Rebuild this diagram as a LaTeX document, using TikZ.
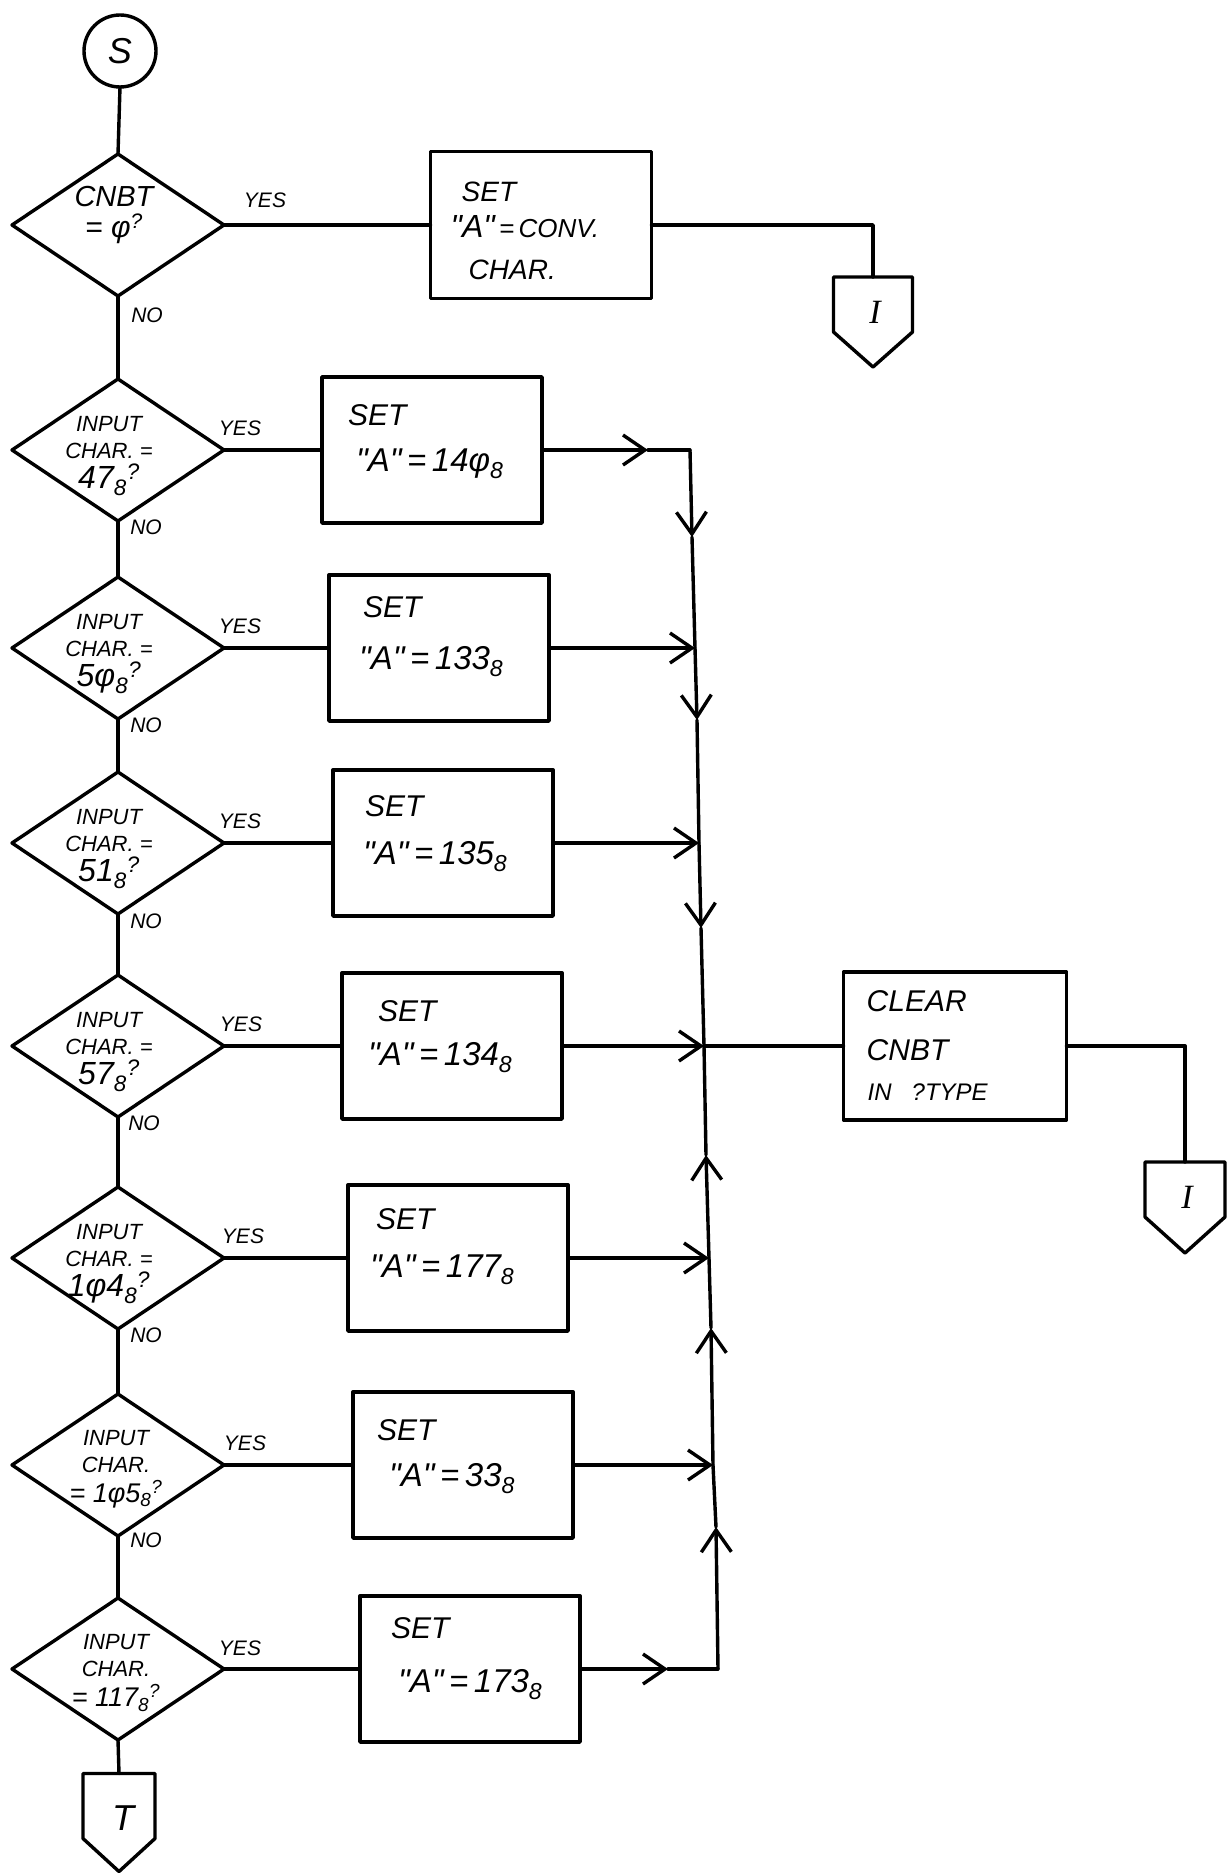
\documentclass[tikz,border=0pt]{standalone}
\usepackage{fontspec}
\setmainfont{Liberation Sans}[Ligatures=TeXOff]
\newfontfamily\serifhand{Liberation Serif}
\usetikzlibrary{shapes.geometric,arrows.meta,calc}
\newcommand{\offpageshape}[2]{\draw[ln] (#1.north west) -- (#1.north east) -- (#1.south east) -- ($(#1.south)+(0,#2)$) -- (#1.south west) -- cycle;}
\begin{document}
\begin{tikzpicture}[x=1pt,y=-1pt,
  ln/.style={line width=3.4pt,line cap=round,line join=round},
  dia/.style={ln,draw,diamond,minimum width=212pt,minimum height=142pt,inner sep=0pt,outer sep=0pt},
  procbox/.style={ln,draw,rectangle,minimum width=220pt,minimum height=146pt,inner sep=0pt,outer sep=0pt},
  offpg/.style={inner sep=0pt,outer sep=0pt,minimum width=79pt,minimum height=55pt},
  hand/.style={inner sep=0pt,font=\fontsize{#1}{#1}\selectfont\itshape},
  dtext/.style={inner sep=0pt,align=center,font=\fontsize{22}{27}\selectfont\itshape},
  lbl/.style={inner sep=0pt,font=\fontsize{21}{21}\selectfont\itshape},
  arr/.style={-{Straight Barb[length=22pt,width=30pt]}},
]
\useasboundingbox (0,0) rectangle (1227,1874);

% start connector
\node[ln,draw,circle,minimum size=72pt,inner sep=0pt,outer sep=0pt,font=\fontsize{36}{36}\selectfont\itshape] (S) at (120,51) {S};

% decisions
\node[dia] (d1) at (118,225) {};
\node[dia] (d2) at (118,450) {};
\node[dia] (d3) at (118,648) {};
\node[dia] (d4) at (118,843) {};
\node[dia] (d5) at (118,1046) {};
\node[dia] (d6) at (118,1258) {};
\node[dia] (d7) at (118,1465) {};
\node[dia] (d8) at (118,1669) {};

\node[dtext] (t1) at ($(d1)+(-4,-10)$) {{\fontsize{29}{29}\selectfont CNBT}\\[4pt]{\fontsize{30}{30}\selectfont = φ\textsuperscript{?}}};
\node[dtext] (t2) at ($(d2)+(-9,6)$) {INPUT\\CHAR. =\\[3pt]{\fontsize{32}{32}\selectfont 47\textsubscript{8}\textsuperscript{?}}};
\node[dtext] (t3) at ($(d3)+(-9,6)$) {INPUT\\CHAR. =\\[3pt]{\fontsize{32}{32}\selectfont 5φ\textsubscript{8}\textsuperscript{?}}};
\node[dtext] (t4) at ($(d4)+(-9,6)$) {INPUT\\CHAR. =\\[3pt]{\fontsize{32}{32}\selectfont 51\textsubscript{8}\textsuperscript{?}}};
\node[dtext] (t5) at ($(d5)+(-9,6)$) {INPUT\\CHAR. =\\[3pt]{\fontsize{32}{32}\selectfont 57\textsubscript{8}\textsuperscript{?}}};
\node[dtext] (t6) at ($(d6)+(-9,6)$) {INPUT\\CHAR. =\\[3pt]{\fontsize{32}{32}\selectfont 1φ4\textsubscript{8}\textsuperscript{?}}};
\node[dtext] (t7) at ($(d7)+(-2,4)$) {INPUT\\CHAR.\\[3pt]{\fontsize{27}{27}\selectfont = 1φ5\textsubscript{8}\textsuperscript{?}}};
\node[dtext] (t8) at ($(d8)+(-2,4)$) {INPUT\\CHAR.\\[3pt]{\fontsize{27}{27}\selectfont = 117\textsubscript{8}\textsuperscript{?}}};

% YES / NO labels
\node[lbl] (y1) at (265,200) {YES};
\node[lbl] (y2) at (240,428) {YES};
\node[lbl] (y3) at (240,626) {YES};
\node[lbl] (y4) at (240,821) {YES};
\node[lbl] (y5) at (241,1024) {YES};
\node[lbl] (y6) at (243,1236) {YES};
\node[lbl] (y7) at (245,1443) {YES};
\node[lbl] (y8) at (240,1648) {YES};
\node[lbl] (n1) at (147,315) {NO};
\node[lbl] (n2) at (146,527) {NO};
\node[lbl] (n3) at (146,725) {NO};
\node[lbl] (n4) at (146,921) {NO};
\node[lbl] (n5) at (144,1123) {NO};
\node[lbl] (n6) at (146,1335) {NO};
\node[lbl] (n7) at (146,1540) {NO};

% process boxes
\node[procbox,minimum width=221pt,minimum height=147pt] (b1) at (541,225) {};
\node[procbox] (b2) at (432,450) {};
\node[procbox] (b3) at (439,648) {};
\node[procbox] (b4) at (443,843) {};
\node[procbox] (b5) at (452,1046) {};
\node[procbox] (b6) at (458,1258) {};
\node[procbox] (b7) at (463,1465) {};
\node[procbox] (b8) at (470,1669) {};
\node[procbox,minimum width=223pt,minimum height=148pt] (clr) at (955,1046) {};

% box texts
\node[hand=28,anchor=base west] (b1s) at ($(b1.north west)+(31,50)$) {SET};
\node[hand=26,anchor=base west] (b1a) at ($(b1.north west)+(20,86)$) {{\fontsize{32}{32}\selectfont "A"}\,=\,CONV.};
\node[hand=28,anchor=base west] (b1c) at ($(b1.north west)+(38,128)$) {CHAR.};

\node[hand=30,anchor=base west] (b2s) at ($(b2.north west)+(26,48)$) {SET};
\node[hand=33,anchor=base west] (b2a) at ($(b2.north west)+(34,94)$) {"A"\,=\,14φ\textsubscript{8}};
\node[hand=30,anchor=base west] (b3s) at ($(b3.north west)+(34,42)$) {SET};
\node[hand=33,anchor=base west] (b3a) at ($(b3.north west)+(30,94)$) {"A"\,=\,133\textsubscript{8}};
\node[hand=30,anchor=base west] (b4s) at ($(b4.north west)+(32,46)$) {SET};
\node[hand=33,anchor=base west] (b4a) at ($(b4.north west)+(30,94)$) {"A"\,=\,135\textsubscript{8}};
\node[hand=30,anchor=base west] (b5s) at ($(b5.north west)+(36,48)$) {SET};
\node[hand=33,anchor=base west] (b5a) at ($(b5.north west)+(26,92)$) {"A"\,=\,134\textsubscript{8}};
\node[hand=30,anchor=base west] (b6s) at ($(b6.north west)+(28,44)$) {SET};
\node[hand=33,anchor=base west] (b6a) at ($(b6.north west)+(22,92)$) {"A"\,=\,177\textsubscript{8}};
\node[hand=30,anchor=base west] (b7s) at ($(b7.north west)+(24,48)$) {SET};
\node[hand=33,anchor=base west] (b7a) at ($(b7.north west)+(36,94)$) {"A"\,=\,33\textsubscript{8}};
\node[hand=30,anchor=base west] (b8s) at ($(b8.north west)+(31,42)$) {SET};
\node[hand=33,anchor=base west] (b8a) at ($(b8.north west)+(38,96)$) {"A"\,=\,173\textsubscript{8}};

\node[hand=30,anchor=base west] (c1) at ($(clr.north west)+(23,39)$) {CLEAR};
\node[hand=30,anchor=base west] (c2) at ($(clr.north west)+(23,88)$) {CNBT};
\node[hand=24,anchor=base west] (c3) at ($(clr.north west)+(24,128)$) {IN \ \ ?TYPE};

% off-page connectors
\node[offpg] (I1) at (873,304.5) {};
\offpageshape{I1}{35}
\node[font=\fontsize{34}{34}\selectfont\serifhand\itshape,inner sep=0pt] (I1t) at ($(I1)+(2,8)$) {I};
\node[offpg,minimum width=80pt] (I2) at (1185,1189.5) {};
\offpageshape{I2}{36}
\node[font=\fontsize{34}{34}\selectfont\serifhand\itshape,inner sep=0pt] (I2t) at ($(I2)+(2,8)$) {I};
\node[offpg,minimum width=72pt,minimum height=65pt] (T) at (119,1806) {};
\offpageshape{T}{33}
\node[hand=36] (Tt) at ($(T)+(4,12)$) {T};

% main spine
\draw[ln] (S.south) -- (d1.north);
\draw[ln] (d1.south) -- (d2.north);
\draw[ln] (d2.south) -- (d3.north);
\draw[ln] (d3.south) -- (d4.north);
\draw[ln] (d4.south) -- (d5.north);
\draw[ln] (d5.south) -- (d6.north);
\draw[ln] (d6.south) -- (d7.north);
\draw[ln] (d7.south) -- (d8.north);
\draw[ln] (d8.south) -- (T.north);

% yes branches
\draw[ln] (d1.east) -- (b1.west);
\draw[ln] (d2.east) -- (b2.west);
\draw[ln] (d3.east) -- (b3.west);
\draw[ln] (d4.east) -- (b4.west);
\draw[ln] (d5.east) -- (b5.west);
\draw[ln] (d6.east) -- (b6.west);
\draw[ln] (d7.east) -- (b7.west);
\draw[ln] (d8.east) -- (b8.west);

% first exit
\coordinate (k1) at (873,225);
\draw[ln] (b1.east) -- (k1) -- (I1.north);

% collector
\coordinate (j2) at (690,450);
\coordinate (j3) at (695,648);
\coordinate (j4) at (699,843);
\coordinate (j5) at (704,1046);
\coordinate (j6) at (709,1258);
\coordinate (j7) at (713,1465);
\coordinate (j8) at (718,1669);
\coordinate (v1) at (692,537);
\coordinate (v2) at (697,720);
\coordinate (v3) at (701,928);
\coordinate (u1) at (706,1155);
\coordinate (u2) at (711,1328);
\coordinate (u3) at (716,1527);
\coordinate (h2) at (648,450);
\coordinate (h8) at (668,1669);

\draw[ln,arr] (b2.east) -- (h2);
\draw[ln] (h2) -- (j2);
\draw[ln,arr] (j2) -- (v1);
\draw[ln] (v1) -- (j3);
\draw[ln,arr] (j3) -- (v2);
\draw[ln] (v2) -- (j4);
\draw[ln,arr] (j4) -- (v3);
\draw[ln] (v3) -- (j5);
\draw[ln,arr] (j8) -- (u3);
\draw[ln] (u3) -- (j7);
\draw[ln,arr] (j7) -- (u2);
\draw[ln] (u2) -- (j6);
\draw[ln,arr] (j6) -- (u1);
\draw[ln] (u1) -- (j5);

\draw[ln,arr] (b3.east) -- (j3);
\draw[ln,arr] (b4.east) -- (j4);
\draw[ln,arr] (b5.east) -- (j5);
\draw[ln,arr] (b6.east) -- (j6);
\draw[ln,arr] (b7.east) -- (j7);
\draw[ln,arr] (b8.east) -- (h8);
\draw[ln] (h8) -- (j8);

\draw[ln] (j5) -- (clr.west);
\coordinate (k2) at (1185,1046);
\draw[ln] (clr.east) -- (k2) -- (I2.north);
\end{tikzpicture}
\end{document}
